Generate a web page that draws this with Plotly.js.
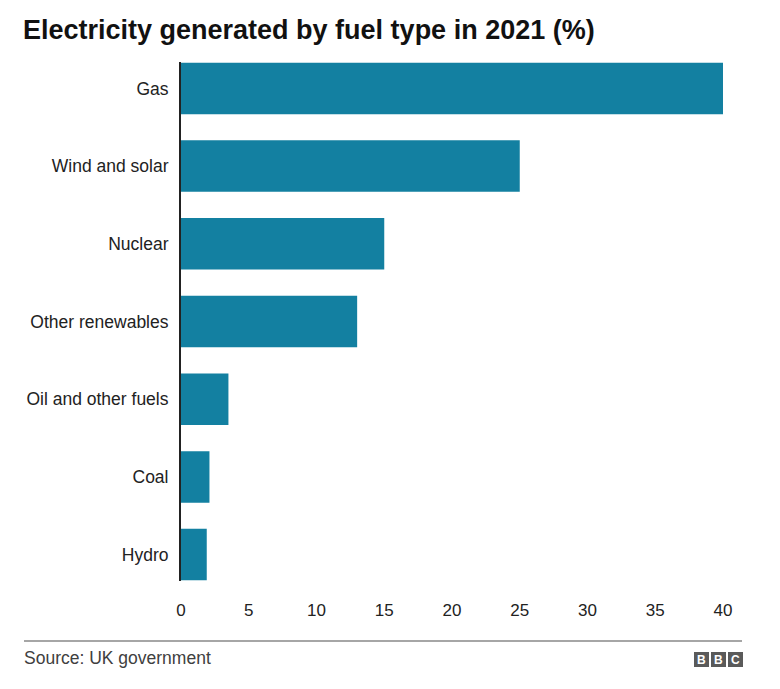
<!DOCTYPE html>
<html>
<head>
<meta charset="utf-8">
<script src="https://cdn.plot.ly/plotly-3.0.1.min.js"></script>
<style>html,body{margin:0;padding:0;background:#fff;}#chart{width:780px;height:689px;}</style>
</head>
<body>
<div id="chart"></div>
<script>
const categories = ["Gas", "Wind and solar", "Nuclear", "Other renewables", "Oil and other fuels", "Coal", "Hydro"];
const values = [40, 25, 15, 13, 3.5, 2.1, 1.9];
const xTicks = [0, 5, 10, 15, 20, 25, 30, 35, 40];
const titleText = "Electricity generated by fuel type in 2021 (%)";
const sourceText = "Source: UK government";

const W = 780, H = 689;
const L = 181, R = 57, T = 62, B = 108;
const pw = W - L - R, ph = H - T - B;
const px = x => (x - L) / pw;
const py = y => (H - B - y) / ph;

const FONT = "Liberation Sans, Arial, Helvetica, sans-serif";

const trace = {
  type: "bar",
  orientation: "h",
  x: values,
  y: categories,
  marker: {color: "#1380A1"},
  hoverinfo: "x+y"
};

const logoBoxes = ["B", "B", "C"];
const shapes = [
  {type: "line", xref: "paper", yref: "paper", x0: px(24), x1: px(742), y0: py(641), y1: py(641),
   line: {color: "#a6a6a6", width: 2}}
];
const annotations = [
  {xref: "paper", yref: "paper", x: px(22), y: py(658), xanchor: "left", yanchor: "middle",
   text: sourceText, showarrow: false, font: {family: FONT, size: 17.5, color: "#404040"}}
];
logoBoxes.forEach((ch, i) => {
  const x0 = 694 + i * 17;
  shapes.push({type: "rect", xref: "paper", yref: "paper", x0: px(x0), x1: px(x0 + 15),
    y0: py(667), y1: py(652), fillcolor: "#5a5a5a", line: {width: 0}});
  annotations.push({xref: "paper", yref: "paper", x: px(x0 + 7.5), y: py(659.5), xanchor: "center", yanchor: "middle",
    text: "<b>" + ch + "</b>", showarrow: false, font: {family: FONT, size: 12, color: "#ffffff"}});
});

const layout = {
  width: W, height: H,
  margin: {l: L, r: R, t: T, b: B, pad: 0},
  paper_bgcolor: "#ffffff",
  plot_bgcolor: "#ffffff",
  bargap: 0.337,
  showlegend: false,
  title: {
    text: "<b>" + titleText + "</b>",
    xref: "container", yref: "container",
    x: 23 / W, xanchor: "left",
    y: 1 - 30 / H, yanchor: "middle",
    font: {family: FONT, size: 27, color: "#111111"}
  },
  xaxis: {
    range: [0, 40],
    tickvals: xTicks,
    ticktext: xTicks.map(String),
    showgrid: false,
    zeroline: false,
    showline: false,
    ticks: "",
    ticklabelstandoff: 17,
    tickfont: {family: FONT, size: 17, color: "#222222"},
    fixedrange: true
  },
  yaxis: {
    autorange: false,
    range: [6.34, -0.34],
    type: "category",
    showgrid: false,
    zeroline: false,
    showline: true,
    linecolor: "#222222",
    linewidth: 2,
    ticks: "",
    ticklabelstandoff: 7,
    tickfont: {family: FONT, size: 17.5, color: "#222222"},
    fixedrange: true
  },
  shapes: shapes,
  annotations: annotations
};

Plotly.newPlot("chart", [trace], layout, {displayModeBar: false, staticPlot: true});
</script>
</body>
</html>
